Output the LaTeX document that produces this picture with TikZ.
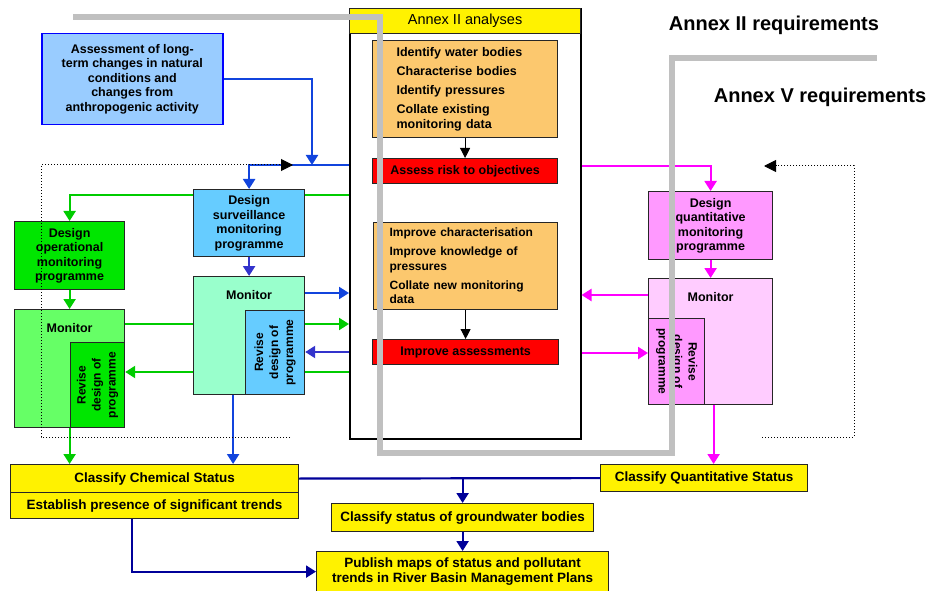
\documentclass[tikz,border=0pt]{standalone}
\usepackage{fontspec}
\setmainfont{Liberation Sans}
\usetikzlibrary{arrows.meta,positioning,calc}
\definecolor{assessblue}{HTML}{99CCFF}
\definecolor{survblue}{HTML}{66CCFF}
\definecolor{survmint}{HTML}{99FFCC}
\definecolor{opgreen}{HTML}{00E600}
\definecolor{oplight}{HTML}{66FF66}
\definecolor{qpink}{HTML}{FF99FF}
\definecolor{qlight}{HTML}{FFCCFF}
\definecolor{analysis}{HTML}{FCC86E}
\definecolor{lgreen}{HTML}{00CC00}
\definecolor{lblue}{HTML}{1144DD}
\definecolor{lviolet}{HTML}{3333CC}
\definecolor{lmagenta}{HTML}{FF00FF}
\definecolor{lnavy}{HTML}{000099}
\definecolor{annexgray}{HTML}{C0C0C0}
\tikzset{%
  font=\bfseries\fontsize{12.5}{14.5}\selectfont, >={Triangle[length=10pt,width=12pt]},
  box/.style={rectangle, draw=black!85, line width=1.2pt, anchor=north west, inner sep=0pt, align=center},
  ybox/.style={box, fill=yellow, font=\bfseries\fontsize{13.5}{15.5}\selectfont},
  rbox/.style={box, fill=red},
  abox/.style={box, fill=analysis, align=left},
  monbox/.style={box, label={[anchor=north, inner sep=0pt, yshift=-14pt]north:Monitor}},
  revtext/.style={align=center, inner sep=0pt, font=\bfseries\fontsize{12}{15}\selectfont},
  gline/.style={draw=lgreen, line width=2.2pt},
  bline/.style={draw=lblue, line width=2.2pt},
  vline/.style={draw=lviolet, line width=2.2pt},
  mline/.style={draw=lmagenta, line width=2.2pt},
  nline/.style={draw=lnavy, line width=2.2pt},
  kline/.style={draw=black, line width=1pt, -{Triangle[length=10pt,width=10pt]}},
  loopline/.style={draw=black, dotted, line width=1pt, -{Triangle[length=12pt,width=12pt]}},
  annexedge/.style={draw=annexgray, line width=6pt},
  heading/.style={font=\bfseries\fontsize{20}{22}\selectfont, inner sep=0pt}
}
\begin{document}
\begin{tikzpicture}[x=1pt,y=-1pt]
\useasboundingbox (0,0) rectangle (930,591);

% Annex II column
\node[box, draw=black, line width=1.5pt, minimum width=231pt, minimum height=430pt] (annex) at (349,8) {};
\node[box, fill=yellow, minimum width=231pt, minimum height=25pt, font=\mdseries\fontsize{14.5}{16}\selectfont] (annexhead) at (349,8) {Annex II analyses};
\node[abox, minimum width=185pt, minimum height=97pt, text width=137pt, inner xsep=24pt] (ident) at (372,40)
  {Identify water bodies\\[4.5pt]Characterise bodies\\[4.5pt]Identify pressures\\[4.5pt]Collate existing\\monitoring data};
\node[rbox, minimum width=185pt, minimum height=25pt] (risk) at (372,158) {Assess risk to objectives};
\node[abox, minimum width=184pt, minimum height=87pt, text width=152pt, inner xsep=16pt, font=\bfseries\fontsize{12}{14.5}\selectfont] (improve) at (373,222)
  {Improve characterisation\\[4.5pt]Improve knowledge of\\pressures\\[4.5pt]Collate new monitoring\\data};
\node[rbox, minimum width=186pt, minimum height=25pt] (better) at (372,339) {Improve assessments};

\node[box, draw=blue, line width=1.5pt, fill=assessblue, minimum width=181pt, minimum height=91pt] (assess) at (41,33)
  {Assessment of long-\\term changes in natural\\conditions and\\changes from\\anthropogenic activity};

% surveillance
\node[box, fill=survblue, minimum width=111pt, minimum height=67pt] (sdesign) at (193,189) {Design\\surveillance\\monitoring\\programme};
\node[monbox, fill=survmint, minimum width=111pt, minimum height=118pt] (smon) at (193,276) {};
\node[box, fill=survblue, minimum width=59pt, minimum height=84pt] (srev) at (245,310) {};
\node[revtext, rotate=90] at (srev) {Revise\\design of\\programme};

% operational
\node[box, fill=opgreen, minimum width=110pt, minimum height=68pt] (odesign) at (14,221) {Design\\operational\\monitoring\\programme};
\node[monbox, fill=oplight, minimum width=110pt, minimum height=118pt] (omon) at (14,309) {};
\node[box, fill=opgreen, minimum width=54pt, minimum height=85pt] (orev) at (70,342) {};
\node[revtext, rotate=90] at (orev) {Revise\\design of\\programme};

% quantitative
\node[box, fill=qpink, minimum width=124pt, minimum height=68pt] (qdesign) at (648,191) {Design\\quantitative\\monitoring\\programme};
\node[monbox, fill=qlight, minimum width=124pt, minimum height=126pt] (qmon) at (648,278) {};
\node[box, fill=qpink, minimum width=56pt, minimum height=86pt] (qrev) at (648,318) {};
\node[revtext, rotate=-90] at (qrev) {Revise\\design of\\programme};

% status boxes
\node[ybox, minimum width=288pt, minimum height=28pt] (chem) at (10,464) {Classify Chemical Status};
\node[ybox, minimum width=288pt, minimum height=26pt] (trends) at (10,492) {Establish presence of significant trends};
\node[ybox, minimum width=207pt, minimum height=27pt] (qstat) at (600,464) {Classify Quantitative Status};
\node[ybox, minimum width=262pt, minimum height=28pt] (gwstat) at (331,503) {Classify status of groundwater bodies};
\node[ybox, minimum width=292pt, minimum height=40pt] (publish) at (316,551) {Publish maps of status and pollutant\\trends in River Basin Management Plans};

\coordinate (join) at (312,165);
\coordinate (loopL) at (290,437);
\coordinate (cornerL) at (41,165);
\coordinate (tipL) at (293,165);
\coordinate (loopR) at (762,437);
\coordinate (cornerR) at (854,166);
\coordinate (tipR) at (764,166);

\draw[kline] (ident) -- (risk);
\draw[kline] (improve) -- (better);

\draw[bline,->] (annex.west |- 0,165) -| (sdesign.north);
\draw[bline,->] (assess.east) -| (join);
\draw[vline,->] (sdesign) -- (smon);
\draw[bline,->] (smon.east |- 0,293) -- (annex.west |- 0,293);
\draw[vline,->] (annex.west |- 0,352) -- (srev.east |- 0,352);
\draw[bline,->] ([xshift=-16pt]smon.south) -- ([xshift=-16pt]smon.south |- chem.north);

\draw[gline] (annex.west |- 0,195) -- (sdesign.east |- 0,195);
\draw[gline,->] (sdesign.west |- 0,195) -| (odesign.north);
\draw[gline,->] (odesign) -- (omon);
\draw[gline] (omon.east |- 0,324) -- (smon.west |- 0,324);
\draw[gline,->] (smon.east |- 0,324) -- (annex.west |- 0,324);
\draw[gline] (annex.west |- 0,372) -- (smon.east |- 0,372);
\draw[gline,->] (smon.west |- 0,372) -- (orev.east |- 0,372);
\draw[gline,->] (omon.south) -- (omon.south |- chem.north);

\draw[mline,->] (annex.east |- 0,166) -| (qdesign.north);
\draw[mline,->] (qdesign) -- (qmon);
\draw[mline,->] (qmon.west |- 0,295) -- (annex.east |- 0,295);
\draw[mline,->] (annex.east |- 0,353) -- (qrev.west |- 0,353);
\draw[mline,->] ([xshift=3pt]qmon.south) -- ([xshift=3pt]qmon.south |- qstat.north);

\draw[nline] (chem.east) -- (qstat.west);
\draw[nline,->] (chem.east -| gwstat.north) -- (gwstat.north);
\draw[nline,->] (gwstat) -- (publish);
\draw[nline,->] ([xshift=-23pt]trends.south) |- (publish.west);

\draw[loopline] (loopL) -| (cornerL) -- (tipL);
\draw[loopline] (loopR) -| (cornerR) -- (tipR);

\draw[annexedge] (73,17) -| (380,453) -| (672,58) -- (877,58);

\node[heading] (req2) at (774,25) {Annex II requirements};
\node[heading] (req5) at (820,97) {Annex V requirements};
\end{tikzpicture}
\end{document}
